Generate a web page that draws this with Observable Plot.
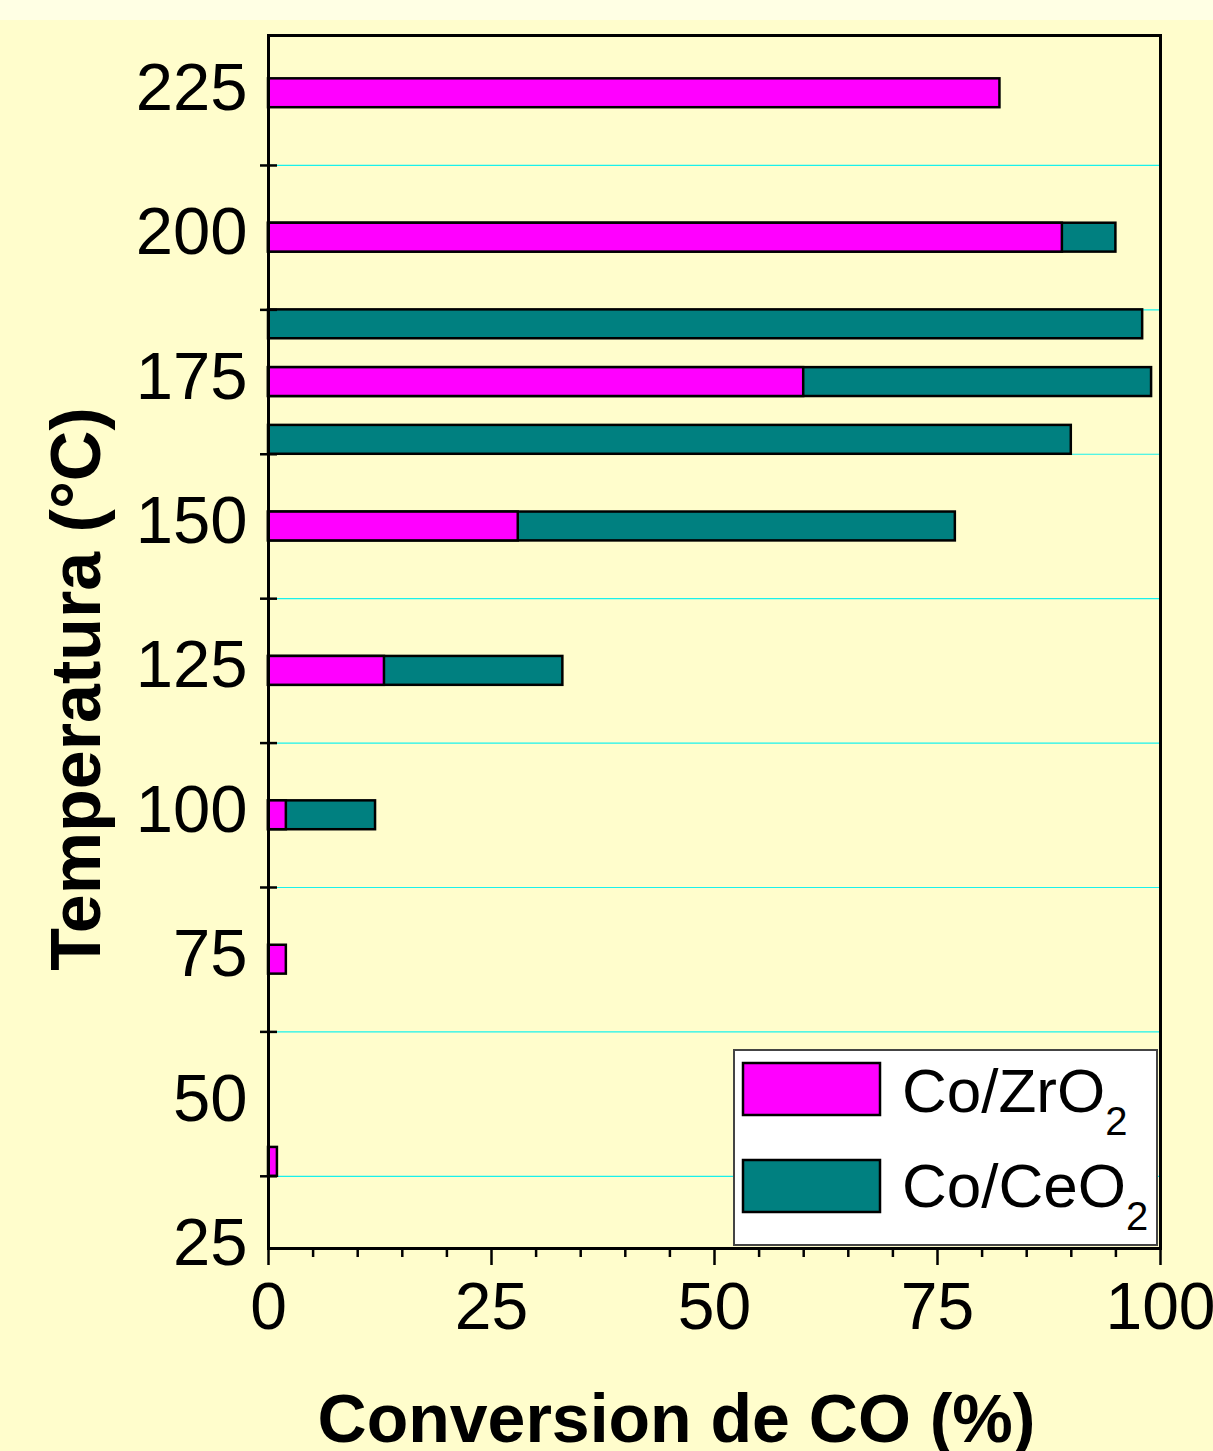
<!DOCTYPE html>
<html>
<head>
<meta charset="utf-8">
<script src="https://cdn.jsdelivr.net/npm/d3@7"></script>
<script src="https://cdn.jsdelivr.net/npm/@observablehq/plot@0.6"></script>
<style>
  html, body { margin: 0; padding: 0; background: #FFFFE4; }
  #fig { position: relative; width: 1213px; height: 1451px; font-family: "Liberation Sans", Arial, sans-serif; }
  #strip { height: 20px; background: #FFFFE4; }
  #legend { position: absolute; left: 733px; top: 1049px; width: 425px; height: 197px;
            box-sizing: border-box; border: 2px solid #444; background: #fff; }
  #legend svg { display: block; }
</style>
</head>
<body>
<div id="fig"><div id="strip"></div></div>
<script>
// CO conversion (%) versus reaction temperature (°C) for two cobalt catalysts
const seriesNames = ["Co/ZrO", "Co/CeO"];
const seriesColors = ["#FF00FF", "#008080"];

const zrTemps = [40, 75, 100, 125, 150, 175, 200, 225];
const zrConv  = [1, 2, 2, 13, 28, 60, 89, 82];

const ceTemps = [100, 125, 150, 165, 175, 185, 200];
const ceConv  = [12, 33, 77, 90, 99, 98, 95];

const yTicks = [25, 50, 75, 100, 125, 150, 175, 200, 225];
const yMinor = [37.5, 62.5, 87.5, 112.5, 137.5, 162.5, 187.5, 212.5];
const xTicks = [0, 25, 50, 75, 100];
const xMinor = [5, 10, 15, 20, 30, 35, 40, 45, 55, 60, 65, 70, 80, 85, 90, 95];

const xLabel = "Conversion de CO (%)";
const yLabel = "Temperatura (°C)";

const barHalf = 2.5; // half bar thickness, in °C

const zr = zrTemps.map((t, i) => ({t, v: zrConv[i]}));
const ce = ceTemps.map((t, i) => ({t, v: ceConv[i]}));

const barOpts = (fill) => ({
  x: "v",
  y1: d => d.t - barHalf,
  y2: d => d.t + barHalf,
  fill,
  stroke: "#000",
  strokeWidth: 2.5
});

const chart = Plot.plot({
  width: 1213,
  height: 1431,
  marginLeft: 268,
  marginRight: 53,
  marginTop: 15,
  marginBottom: 203,
  style: { background: "#FFFDCC", color: "#000", fontFamily: "'Liberation Sans', Arial, sans-serif", overflow: "visible" },
  x: { domain: [0, 100] },
  y: { domain: [25, 235] },
  marks: [
    Plot.gridY(yMinor, { stroke: "#00F0F0", strokeOpacity: 0.9, strokeWidth: 1.2 }),
    Plot.rectX(ce, barOpts(seriesColors[1])),
    Plot.rectX(zr, barOpts(seriesColors[0])),
    // y axis: labels on major values, crossing ticks on the half steps
    Plot.axisY(yTicks, { tickSize: 0, tickPadding: 21, fontSize: 67, dy: -5, label: null }),
    Plot.axisY(yMinor, { tickSize: 17, dx: 9, text: null, label: null, strokeWidth: 2.5 }),
    // x axis: major and minor ticks
    Plot.axisX(xTicks, { tickSize: 17, tickPadding: 17, fontSize: 66, label: null, strokeWidth: 2.5 }),
    Plot.axisX(xMinor, { tickSize: 9, text: null, label: null, strokeWidth: 2.5 }),
    Plot.frame({ stroke: "#000", strokeWidth: 3 }),
    Plot.text([xLabel], { frameAnchor: "bottom", textAnchor: "middle", dx: -38, dy: 193, fontSize: 68, fontWeight: "bold", text: d => d }),
    Plot.text([yLabel], { frameAnchor: "left", textAnchor: "middle", lineAnchor: "middle", rotate: -90, dx: -191, dy: 47, fontSize: 70, fontWeight: "bold", text: d => d })
  ]
});

const fig = document.getElementById("fig");
fig.appendChild(chart);

// legend box inside the plot area
const legend = document.createElement("div");
legend.id = "legend";
const lsvg = d3.create("svg").attr("width", 421).attr("height", 193);
const rows = [0, 1].map(i => ({ name: seriesNames[i], color: seriesColors[i], top: 12 + i * 97, base: 61 + i * 95 }));
for (const r of rows) {
  lsvg.append("rect").attr("x", 8).attr("y", r.top).attr("width", 137).attr("height", 52)
    .attr("fill", r.color).attr("stroke", "#000").attr("stroke-width", 2.5);
  const t = lsvg.append("text").attr("x", 167).attr("y", r.base)
    .attr("font-size", 62).attr("font-family", "'Liberation Sans', Arial, sans-serif").attr("fill", "#000");
  t.append("tspan").text(r.name);
  t.append("tspan").attr("dy", 23).attr("font-size", 40).text("2");
}
legend.appendChild(lsvg.node());
fig.appendChild(legend);
</script>
</body>
</html>
